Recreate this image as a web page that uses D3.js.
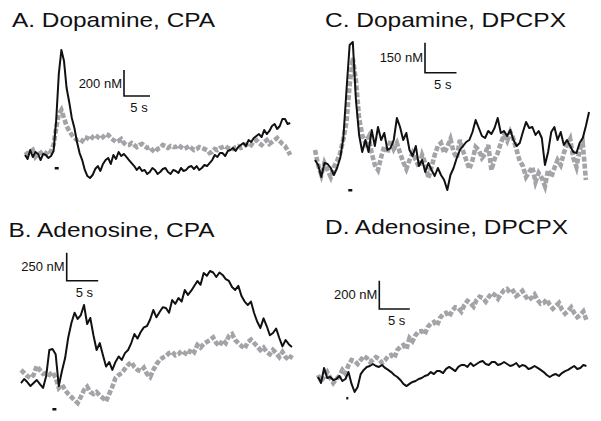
<!DOCTYPE html>
<html>
<head>
<meta charset="utf-8">
<style>
  body { margin: 0; background: #fff; }
  svg { display: block; }
  text { font-family: "Liberation Sans", Arial, sans-serif; fill: #111; }
</style>
</head>
<body>
<div id="chart"></div>
<script src="https://cdn.jsdelivr.net/npm/d3@7"></script>
<script>
// traces in nM, sampled every 0.5 s
var daCpaBlack = [-23,-54,15,-38,0,-15,-62,-15,-23,-46,-31,8,246,600,785,700,492,385,262,185,
  77,-8,-62,-138,-185,-200,-177,-131,-108,-146,-92,-62,-46,-92,-23,-54,0,-31,-15,-38,
  -62,-85,-108,-138,-115,-146,-138,-169,-154,-123,-138,-169,-154,-131,-123,-154,-169,-138,-146,-162,
  -123,-146,-138,-115,-108,-131,-108,-138,-123,-100,-108,-85,-62,-23,-38,-8,-8,-31,8,15,
  31,8,38,54,69,46,92,77,108,123,138,115,169,138,162,200,215,177,200,254,
  254,215,223];
var daCpaGray = [-23,-8,0,15,-38,-15,-8,8,-8,-23,8,54,185,290,323,262,200,162,131,108,
  92,100,85,115,108,92,115,131,115,100,115,138,131,108,92,77,85,100,69,54,
  54,69,54,38,54,62,46,31,38,15,0,23,31,54,46,31,46,38,38,54,
  38,23,31,46,31,15,23,38,31,23,15,-8,0,23,15,31,38,46,31,23,
  23,38,46,31,38,54,69,54,85,92,69,54,77,92,62,77,92,108,85,62,
  46,15,-23];

var adoCpaBlack = [-27,9,-18,-54,-27,0,-36,-71,36,268,277,230,-54,80,196,380,509,600,545,580,
  670,500,554,400,268,330,223,120,161,90,161,210,179,240,268,330,411,370,429,470,
  482,540,625,560,607,650,643,600,714,680,732,700,804,760,795,840,884,850,955,930,
  973,960,920,960,938,900,884,830,804,840,750,700,670,700,598,520,464,550,482,400,
  420,460,375,300,357,320,295];
var adoCpaGray = [89,63,36,18,45,125,89,54,63,45,71,20,-71,-40,-89,-125,-152,-180,-205,-150,
  -89,-60,-107,-125,-107,-140,-161,-190,-125,-60,18,45,63,100,134,160,116,90,80,110,
  54,27,89,140,179,200,214,240,250,220,232,260,241,225,277,250,313,290,321,340,
  357,380,330,305,357,330,393,410,357,330,304,280,339,360,330,300,268,290,250,230,
  268,240,205,250,205,180,223];

var daDpcpxBlack = [25,0,-60,10,5,-15,-50,-15,35,135,375,600,615,325,150,65,125,65,175,95,
  190,125,160,75,85,125,235,190,125,160,75,45,95,-5,25,-35,10,-25,-55,-15,
  -50,-75,-125,-50,-15,35,75,95,115,125,165,225,185,145,135,170,155,185,235,160,
  170,145,175,125,95,110,165,215,185,190,150,170,135,0,65,165,190,125,165,100,
  125,95,65,60,110,135,195,265];
var daDpcpxGray = [75,0,-50,10,-25,-60,-10,20,60,130,215,400,535,420,235,150,110,140,60,0,
  -25,40,95,60,125,80,110,60,15,-20,25,60,25,-10,50,10,-65,-10,50,95,
  110,60,90,130,65,35,125,70,25,-20,25,90,75,35,55,100,-25,30,60,110,
  150,120,165,130,75,20,-5,-60,-35,-10,-85,-40,-65,-105,-25,-60,-15,25,0,60,
  100,130,35,-10,75,110,-75];

var adoDpcpxBlack = [7,-35,71,0,7,-14,-7,14,-21,-7,42,-42,-99,-64,28,57,78,85,99,85,
  78,92,71,57,42,21,7,-14,-42,-57,-42,-28,-21,-7,0,14,21,42,28,49,
  49,35,64,78,64,49,78,92,92,78,106,85,99,113,120,99,92,113,113,92,
  99,113,99,85,92,106,78,92,85,64,71,85,71,57,42,21,7,21,28,14,
  35,49,57,71,85,64,71,92,85];
var adoDpcpxGray = [21,-20,7,42,0,-35,-7,14,57,30,92,127,120,99,127,155,141,113,127,148,
  134,106,127,155,163,141,198,220,233,205,283,260,304,330,332,310,361,385,396,370,
  424,450,460,435,474,500,495,470,516,545,530,505,551,575,566,540,573,600,587,560,
  594,620,629,600,615,580,594,615,580,550,566,590,551,525,530,555,516,490,509,530,
  481,455,474,500,460,430,445,470,410];

var dt = 0.5;
var titles = ["A. Dopamine, CPA", "B. Adenosine, CPA", "C. Dopamine, DPCPX", "D. Adenosine, DPCPX"];
var barNM = [200, 250, 150, 200];
var barSec = 5;
var stimTime = [6.1, 5.3, 5.6, 4.8];

// layout of each panel, in pixels
var layout = [
  {x0: 25,  pxS: 5.2,  y0: 152, pxNM: 26 / 200,   title: [12, 27.3, 203],  bar: [124, 96],    stimY: -123, stimW: 4},
  {x0: 21,  pxS: 6.3,  y0: 380, pxNM: 28 / 250,   title: [8.5, 237.3, 206], bar: [66.7, 280.7], stimY: -259, stimW: 4},
  {x0: 315, pxS: 6.3,  y0: 165, pxNM: 30 / 150,   title: [325, 26.7, 241], bar: [425, 72.7],  stimY: -125, stimW: 4},
  {x0: 318, pxS: 6.1,  y0: 378, pxNM: 28.3 / 200, title: [325, 234, 243],  bar: [379.3, 309], stimY: -141, stimW: 2}
];

var traces = [
  {black: daCpaBlack, gray: daCpaGray},
  {black: adoCpaBlack, gray: adoCpaGray},
  {black: daDpcpxBlack, gray: daDpcpxGray},
  {black: adoDpcpxBlack, gray: adoDpcpxGray}
];

var svg = d3.select("#chart").append("svg")
    .attr("width", 601)
    .attr("height", 421);

titles.forEach(function(title, i) {
  var L = layout[i], T = traces[i];
  var x = d3.scaleLinear().domain([0, 10]).range([L.x0, L.x0 + 10 * L.pxS]);
  var y = d3.scaleLinear().domain([0, 100]).range([L.y0, L.y0 - 100 * L.pxNM]);
  var g = svg.append("g");

  g.append("text")
      .attr("x", L.title[0])
      .attr("y", L.title[1])
      .attr("textLength", L.title[2])
      .attr("lengthAdjust", "spacingAndGlyphs")
      .style("font-size", "21px")
      .text(title);

  var line = d3.line()
      .x(function(d) { return x(d.t); })
      .y(function(d) { return y(d.v); });

  var gray = T.gray.map(function(v, k) { return {t: k * dt, v: v}; });
  var black = T.black.map(function(v, k) { return {t: k * dt, v: v}; });

  g.append("path")
      .datum(gray)
      .attr("d", line)
      .attr("fill", "none")
      .attr("stroke", "#a3a3a8")
      .attr("stroke-width", 4.6)
      .attr("stroke-dasharray", "5,2");

  g.append("path")
      .datum(black)
      .attr("d", line)
      .attr("fill", "none")
      .attr("stroke", "#111")
      .attr("stroke-width", 2)
      .attr("stroke-linejoin", "round");

  // stimulation marker
  g.append("rect")
      .attr("x", x(stimTime[i]) - L.stimW / 2)
      .attr("y", y(L.stimY) - 1)
      .attr("width", L.stimW)
      .attr("height", 2.5)
      .attr("fill", "#111");

  // scale bar
  var bx = L.bar[0], by = L.bar[1];
  var vLen = y(0) - y(barNM[i]);
  var hLen = x(barSec) - x(0);
  g.append("path")
      .attr("d", "M" + bx + "," + (by - vLen) + "V" + by + "H" + (bx + hLen))
      .attr("fill", "none")
      .attr("stroke", "#111")
      .attr("stroke-width", 1.6);
  g.append("text")
      .attr("x", bx - 2)
      .attr("y", by - vLen / 2 + 4.5)
      .attr("text-anchor", "end")
      .style("font-size", "13px")
      .text(barNM[i] + " nM");
  g.append("text")
      .attr("x", bx + hLen / 2 + 2)
      .attr("y", by + 16)
      .attr("text-anchor", "middle")
      .style("font-size", "13px")
      .text(barSec + " s");
});
</script>
</body>
</html>
